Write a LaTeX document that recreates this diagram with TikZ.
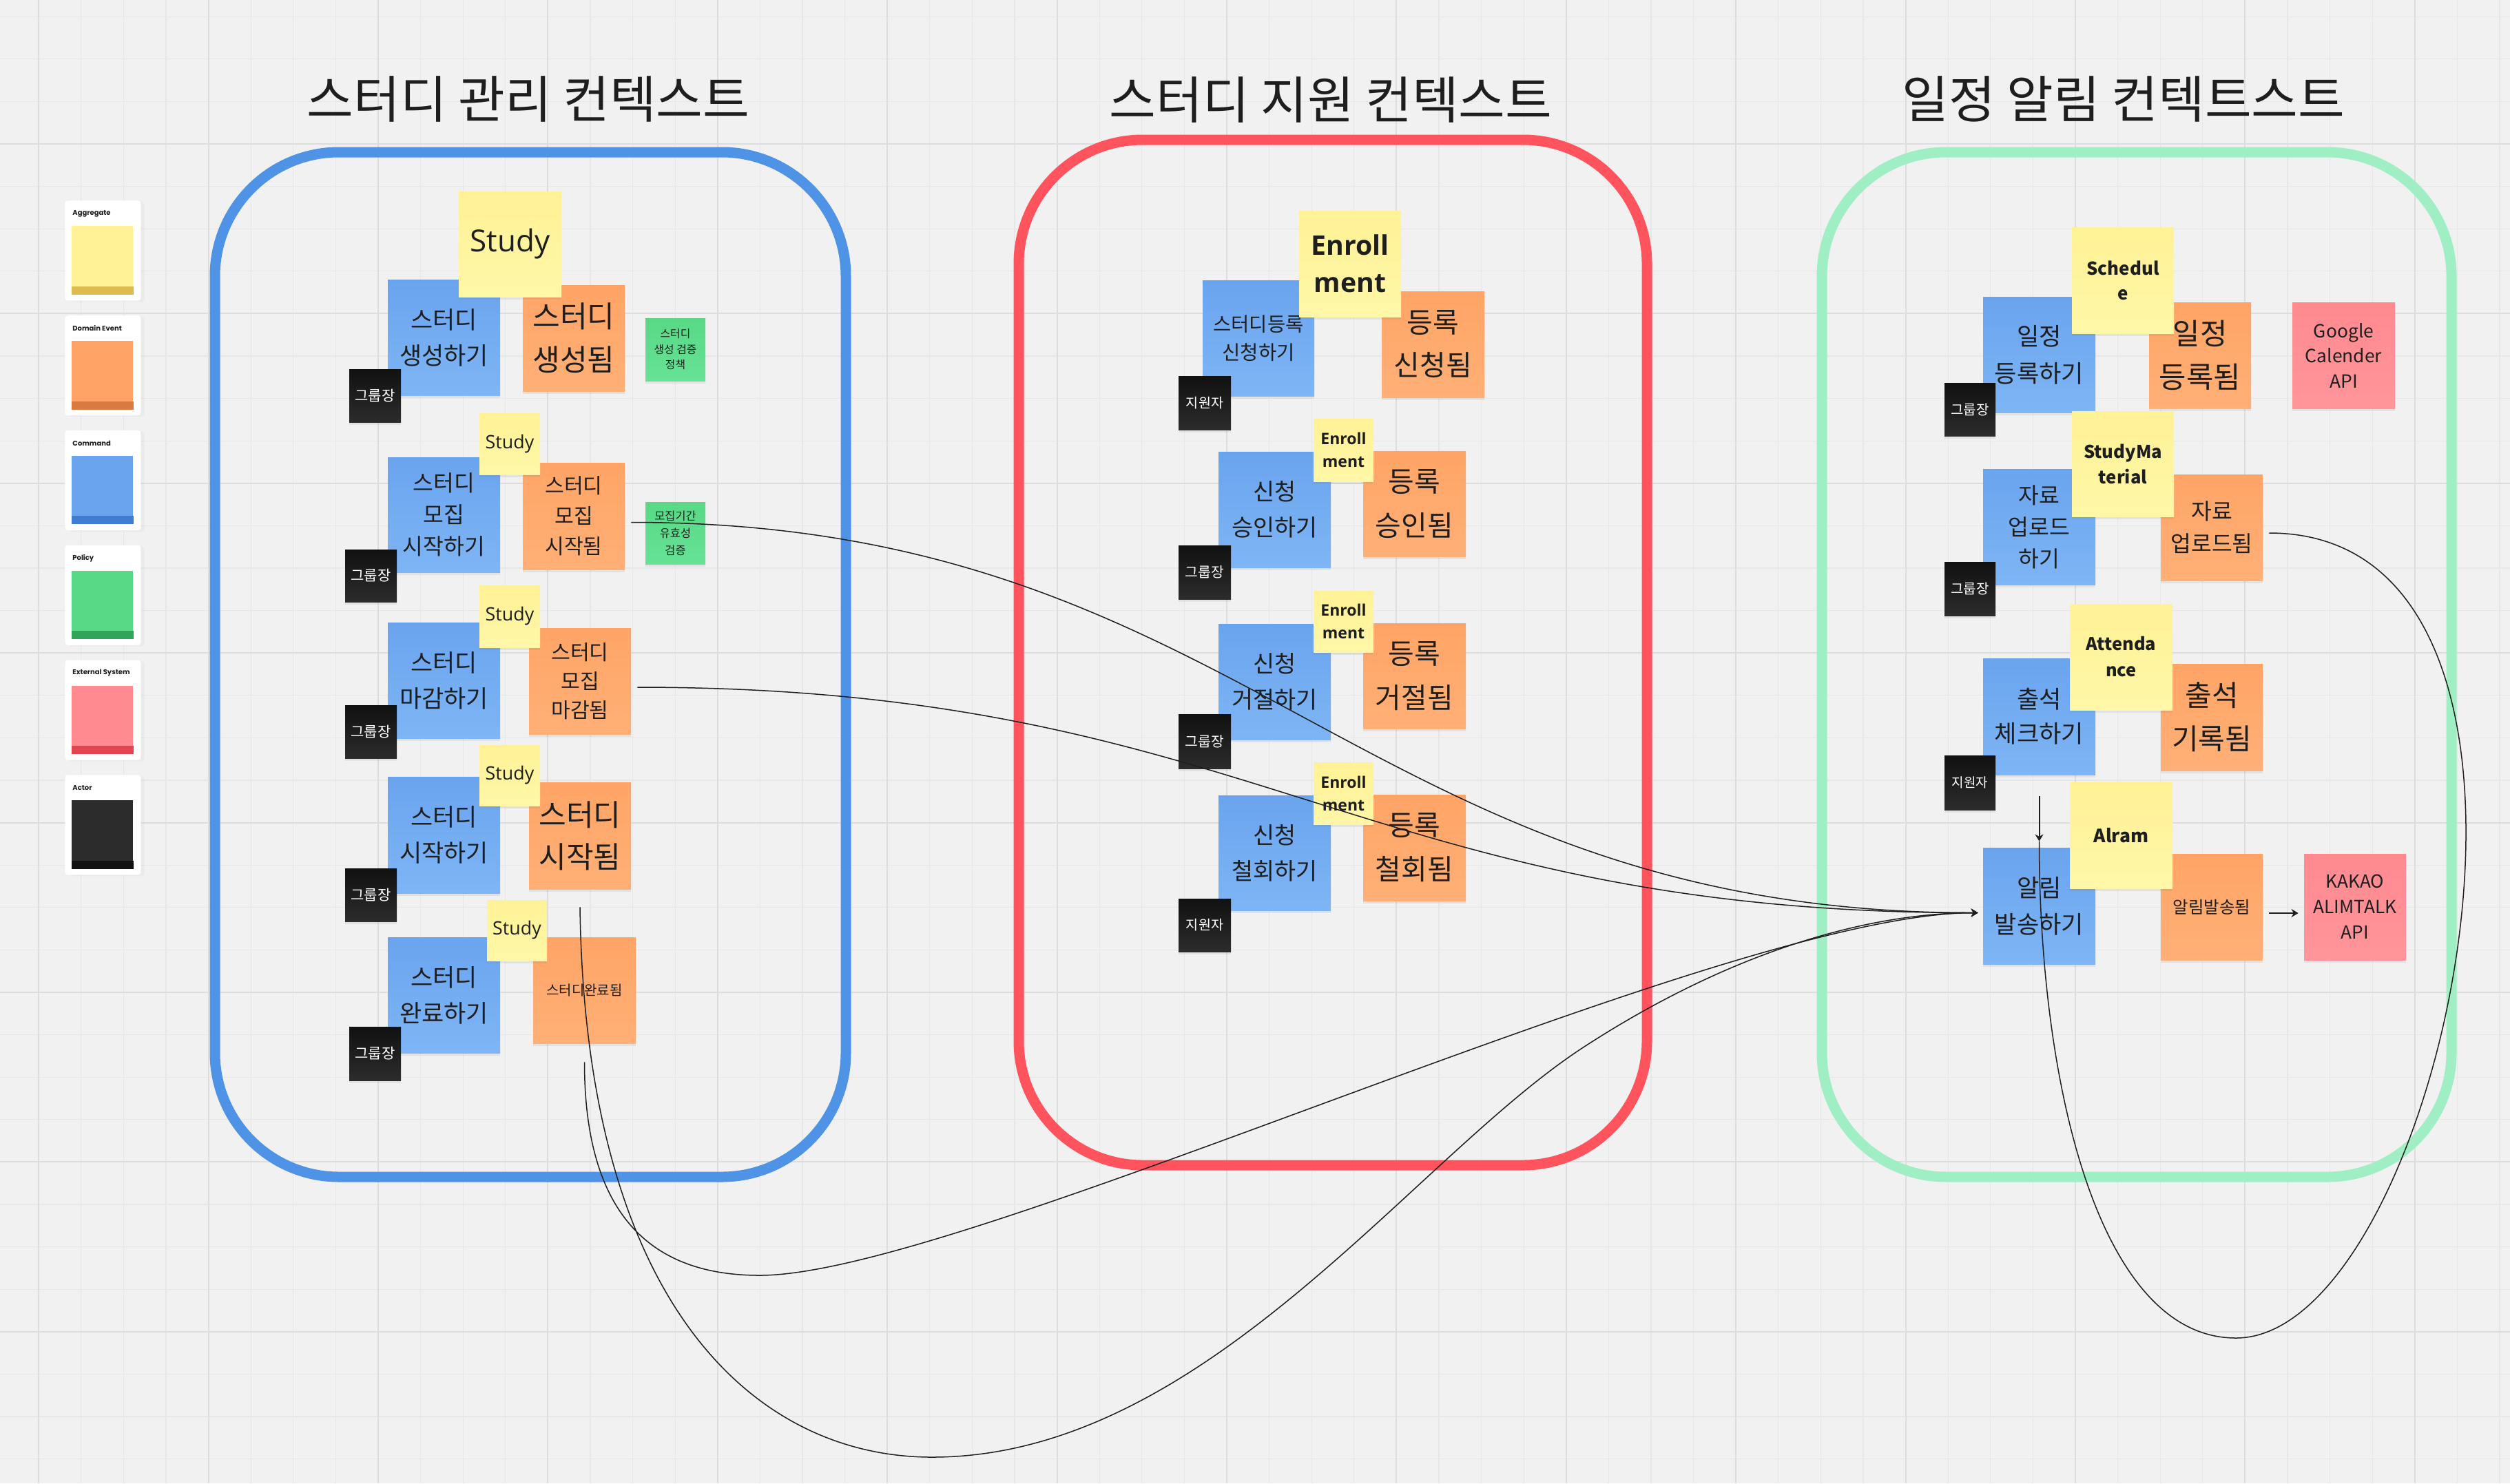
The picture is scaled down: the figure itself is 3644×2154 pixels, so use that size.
\documentclass[tikz,border=0pt]{standalone}
\usepackage{fontspec}
\setmainfont{Noto Sans CJK KR}
\newfontfamily\kr{Noto Sans CJK KR}
\newfontfamily\os{Open Sans}
\newfontfamily\pop{Poppins}
\usetikzlibrary{arrows.meta,calc,shadows}

\definecolor{bgc}{HTML}{F1F1F1}
\definecolor{gmin}{HTML}{E7E7E7}
\definecolor{gmaj}{HTML}{DDDDDD}
\definecolor{ctxblue}{HTML}{4F93E6}
\definecolor{ctxred}{HTML}{FF535E}
\definecolor{ctxgreen}{HTML}{A0EEC3}
\definecolor{yelA}{HTML}{FFF296}
\definecolor{yelB}{HTML}{FFF7A8}
\definecolor{orA}{HTML}{FFA466}
\definecolor{orB}{HTML}{FFB077}
\definecolor{blA}{HTML}{6AA4EE}
\definecolor{blB}{HTML}{7EB5F5}
\definecolor{grA}{HTML}{58D985}
\definecolor{grB}{HTML}{66E296}
\definecolor{pkA}{HTML}{FF8A90}
\definecolor{pkB}{HTML}{FF959A}
\definecolor{bkA}{HTML}{111111}
\definecolor{bkB}{HTML}{2C2C2C}
\definecolor{yelS}{HTML}{DDBB4E}
\definecolor{orS}{HTML}{D97A40}
\definecolor{blS}{HTML}{3F7DD3}
\definecolor{grS}{HTML}{2EA65A}
\definecolor{pkS}{HTML}{E04550}
\definecolor{bkS}{HTML}{121212}
\definecolor{ink}{HTML}{1E1E1E}

\newcommand\fsz[2]{\fontsize{#1pt}{#2pt}\selectfont}
\newcommand\stk[8]{%
  \pgfmathsetmacro\stkX{(#3+#5)/2}%
  \pgfmathsetmacro\stkY{(#4+#6)/2}%
  \pgfmathsetmacro\stkW{(#5-#3)*0.5}%
  \pgfmathsetmacro\stkH{(#6-#4)*0.5}%
  \node[#2, font={#7}, minimum width=\stkW pt, minimum height=\stkH pt] (#1) at (\stkX,\stkY) {#8};%
}

\begin{document}
\begin{tikzpicture}[x=0.5pt,y=-0.5pt,
  note/.style={inner sep=0pt, align=center, drop shadow={opacity=0.13,shadow xshift=0pt,shadow yshift=-2pt}},
  cmd/.style={note, top color=blA, bottom color=blB, text=ink},
  evt/.style={note, top color=orA, bottom color=orB, text=ink},
  agg/.style={note, top color=yelA, bottom color=yelB, text=ink},
  pol/.style={note, top color=grA, bottom color=grB, text=ink},
  ext/.style={note, top color=pkA, bottom color=pkB, text=ink},
  act/.style={note, top color=bkA, bottom color=bkB, text=white},
  ctx/.style={line width=7.5pt, rounded corners=90pt},
  conn/.style={line width=0.75pt, ink},
  sconn/.style={line width=1pt, ink},
  tip/.style={-{Stealth[length=5pt,width=6pt]}},
  gridmin/.style={gmin, line width=0.6pt},
  gridmaj/.style={gmaj, line width=1pt},
]
\useasboundingbox (0,0) rectangle (3644,2154);
\fill[bgc] (0,0) rectangle (3644,2154);

% grid
\foreach \m in {1,...,59}{\draw[gridmin] ({-5.4+61.6*\m},0) -- ({-5.4+61.6*\m},2154);}
\foreach \n in {0,...,34}{\draw[gridmin] (0,{24.2+61.6*\n}) -- (3644,{24.2+61.6*\n});}
\foreach \m in {1,5,...,57}{\draw[gridmaj] ({-5.4+61.6*\m},0) -- ({-5.4+61.6*\m},2154);}
\foreach \n in {3,7,...,31}{\draw[gridmaj] (0,{24.2+61.6*\n}) -- (3644,{24.2+61.6*\n});}

% legend
\foreach \i/\t/\ca/\cs in {0/Aggregate/yelA/yelS,1/Domain Event/orA/orS,2/Command/blA/blS,3/Policy/grA/grS,4/External System/pkA/pkS,5/Actor/bkB/bkS}{
  \pgfmathsetmacro\yy{291+166.8*\i}
  \node[fill=white, rounded corners=2pt, minimum width=55pt, minimum height=72.5pt, inner sep=0pt, anchor=north west, drop shadow={opacity=0.05,shadow yshift=-1pt}] (card\i) at (94,\yy) {};
  \node[anchor=west, inner sep=0pt, font=\pop\bfseries\fsz{5}{6}, text=ink] (cardt\i) at ($(card\i.north west)+(11,19)$) {\t};
  \node[fill=\ca, minimum width=44.5pt, minimum height=49.5pt, inner sep=0pt, anchor=north west] (cards\i) at ($(card\i.north west)+(10,37)$) {};
  \fill[\cs] ($(cards\i.south west)+(0,-12)$) rectangle (cards\i.south east);
}

% titles
\node[font=\kr\fsz{36.8}{45}, text=ink] (t1) at (767,144) {스터디 관리 컨텍스트};
\node[font=\kr\fsz{36.8}{45}, text=ink] (t2) at (1932,145) {스터디 지원 컨텍스트};
\node[font=\kr\fsz{36.8}{45}, text=ink] (t3) at (3083,144) {일정 알림 컨텍트스트};

% context frames
\draw[ctx, ctxblue] (312,221) rectangle (1228,1709);
\draw[ctx, ctxred] (1479,203) rectangle (2391,1692);
\draw[ctx, ctxgreen] (2645,221) rectangle (3559,1709);

% ---------- left context
\stk{Lc1}{cmd}{563}{406}{726}{574}{\kr\fsz{17.5}{26}}{스터디\\생성하기}
\stk{Le1}{evt}{759}{414}{907}{568}{\kr\fsz{21.6}{31.5}}{스터디\\생성됨}
\stk{Lp1}{pol}{937}{462}{1024}{553}{\kr\fsz{7.9}{11.25}}{스터디\\생성 검증\\정책}
\stk{Lc2}{cmd}{563}{664}{726}{831}{\kr\fsz{16.2}{23}}{스터디\\모집\\시작하기}
\stk{Le2}{evt}{759}{672}{907}{827}{\kr\fsz{15.1}{22}}{스터디\\모집\\시작됨}
\stk{Lp2}{pol}{937}{729}{1024}{819}{\kr\fsz{8.2}{12.5}}{모집기간\\유효성\\검증}
\stk{Lc3}{cmd}{563}{904}{726}{1072}{\kr\fsz{17.5}{26}}{스터디\\마감하기}
\stk{Le3}{evt}{768}{912}{916}{1066}{\kr\fsz{15.1}{21}}{스터디\\모집\\마감됨}
\stk{Lc4}{cmd}{563}{1128}{726}{1297}{\kr\fsz{17.5}{26}}{스터디\\시작하기}
\stk{Le4}{evt}{768}{1136}{916}{1291}{\kr\fsz{21.6}{30.5}}{스터디\\시작됨}
\stk{Lc5}{cmd}{563}{1361}{726}{1529}{\kr\fsz{17.5}{26}}{스터디\\완료하기}
\stk{Le5}{evt}{774}{1361}{923}{1515}{\kr\fsz{10}{12}}{스터디완료됨}
\stk{Ls1}{agg}{666}{278}{815}{431}{\os\fsz{22}{26}}{Study}
\stk{Ls2}{agg}{696}{600}{784}{689}{\os\fsz{13.4}{16}}{Study}
\stk{Ls3}{agg}{696}{850}{784}{940}{\os\fsz{13.4}{16}}{Study}
\stk{Ls4}{agg}{696}{1082}{784}{1170}{\os\fsz{13.4}{16}}{Study}
\stk{Ls5}{agg}{707}{1307}{794}{1395}{\os\fsz{13.4}{16}}{Study}
\stk{La1}{act}{507}{536}{582}{613}{\kr\fsz{10.5}{12}}{그룹장}
\stk{La2}{act}{501}{798}{576}{874}{\kr\fsz{10.5}{12}}{그룹장}
\stk{La3}{act}{501}{1024}{576}{1101}{\kr\fsz{10.5}{12}}{그룹장}
\stk{La4}{act}{501}{1261}{576}{1338}{\kr\fsz{10.5}{12}}{그룹장}
\stk{La5}{act}{507}{1491}{582}{1569}{\kr\fsz{10.5}{12}}{그룹장}

% ---------- middle context
\stk{Mc1}{cmd}{1746}{407}{1908}{575}{\kr\fsz{14.3}{20.5}}{스터디등록\\신청하기}
\stk{Me1}{evt}{2006}{423}{2155}{577}{\kr\fsz{20.5}{31}}{등록\\신청됨}
\stk{Mc2}{cmd}{1769}{656}{1932}{824}{\kr\fsz{16.9}{26}}{신청\\승인하기}
\stk{Me2}{evt}{1979}{655}{2128}{808}{\kr\fsz{20.5}{32}}{등록\\승인됨}
\stk{Mc3}{cmd}{1769}{906}{1932}{1074}{\kr\fsz{16.9}{26}}{신청\\거절하기}
\stk{Me3}{evt}{1979}{905}{2128}{1058}{\kr\fsz{20.5}{32}}{등록\\거절됨}
\stk{Mc4}{cmd}{1769}{1155}{1932}{1322}{\kr\fsz{16.9}{26}}{신청\\철회하기}
\stk{Me4}{evt}{1979}{1154}{2128}{1308}{\kr\fsz{20.5}{32}}{등록\\철회됨}
\stk{Ms1}{agg}{1886}{306}{2034}{460}{\os\bfseries\fsz{19.6}{27}}{Enroll\\ment}
\stk{Ms2}{agg}{1907}{608}{1994}{699}{\os\bfseries\fsz{11.5}{16.5}}{Enroll\\ment}
\stk{Ms3}{agg}{1907}{858}{1994}{947}{\os\bfseries\fsz{11.5}{16.5}}{Enroll\\ment}
\stk{Ms4}{agg}{1907}{1107}{1994}{1197}{\os\bfseries\fsz{11.5}{16.5}}{Enroll\\ment}
\stk{Ma1}{act}{1711}{546}{1787}{624}{\kr\fsz{9.8}{12}}{지원자}
\stk{Ma2}{act}{1711}{792}{1787}{870}{\kr\fsz{10.2}{12}}{그룹장}
\stk{Ma3}{act}{1711}{1037}{1787}{1116}{\kr\fsz{10.2}{12}}{그룹장}
\stk{Ma4}{act}{1711}{1305}{1787}{1382}{\kr\fsz{9.8}{12}}{지원자}

% ---------- right context
\stk{Rc1}{cmd}{2879}{431}{3042}{599}{\kr\fsz{17.6}{27}}{일정\\등록하기}
\stk{Re1}{evt}{3120}{439}{3268}{593}{\kr\fsz{21.4}{31.5}}{일정\\등록됨}
\stk{Rx1}{ext}{3328}{439}{3477}{593}{\kr\fsz{13.2}{18.25}}{Google\\Calender\\API}
\stk{Rc2}{cmd}{2879}{681}{3042}{849}{\kr\fsz{16.2}{23}}{자료\\업로드\\하기}
\stk{Re2}{evt}{3137}{689}{3285}{843}{\kr\fsz{16.2}{23.5}}{자료\\업로드됨}
\stk{Rc3}{cmd}{2879}{956}{3042}{1125}{\kr\fsz{17.6}{25}}{출석\\체크하기}
\stk{Re3}{evt}{3137}{964}{3285}{1119}{\kr\fsz{21}{31.5}}{출석\\기록됨}
\stk{Rc4}{cmd}{2879}{1231}{3042}{1400}{\kr\fsz{17.6}{26.5}}{알림\\발송하기}
\stk{Re4}{evt}{3137}{1240}{3285}{1394}{\kr\fsz{12.25}{14}}{알림발송됨}
\stk{Rx2}{ext}{3345}{1240}{3493}{1394}{\kr\fsz{13.1}{18.5}}{KAKAO\\ALIMTALK\\API}
\stk{Rs1}{agg}{3008}{330}{3156}{484}{\kr\bfseries\fsz{12.9}{18}}{Schedul\\e}
\stk{Rs2}{agg}{3008}{597}{3156}{750}{\kr\bfseries\fsz{12.8}{18.5}}{StudyMa\\terial}
\stk{Rs3}{agg}{3005}{877}{3154}{1031}{\kr\bfseries\fsz{12.7}{19}}{Attenda\\nce}
\stk{Rs4}{agg}{3005}{1136}{3154}{1290}{\kr\bfseries\fsz{13.2}{18}}{Alram}
\stk{Ra1}{act}{2823}{556}{2897}{633}{\kr\fsz{10}{12}}{그룹장}
\stk{Ra2}{act}{2823}{816}{2897}{894}{\kr\fsz{10}{12}}{그룹장}
\stk{Ra3}{act}{2823}{1097}{2897}{1176}{\kr\fsz{9.5}{12}}{지원자}

% ---------- connectors
\coordinate (tipA) at ($(Rc4.west)+(-7,10)$);
\coordinate (bA) at (1103,1852);
\coordinate (bB) at (1353,2116);
\coordinate (mB) at (2300,1520);
\coordinate (bC) at (3246,1943);

\draw[conn, tip] ($(Le2.east)+(9,9)$) .. controls +(900,0) and +(-900,0) .. (tipA);
\draw[conn, tip] ($(Le3.east)+(9,9)$) .. controls +(900,0) and +(-900,0) .. (tipA);
\draw[conn, tip] ($(Le5.south)+(0,27)$) .. controls +(0,238) and +(-143,0) .. (bA)
   .. controls +(297,0) and +(-372,0) .. (tipA);
\draw[conn, tip] ($(Le4.south)+(0,26)$) .. controls +(8,583) and +(-253,0) .. (bB)
   .. controls +(397,0) and +(-250,162) .. (mB)
   .. controls +(200,-130) and +(-172,0) .. (tipA);
\draw[conn] ($(Re2.east)+(9,8)$) .. controls +(500,0) and +(300,0) .. (bC)
   .. controls +(-200,0) and +(0,350) .. ($(Rc4.north)+(0,-9)$);
\draw[sconn, tip] ($(Rc3.south)+(0,31)$) -- ($(Rc4.north)+(0,-9)$);
\draw[sconn, tip] ($(Re4.east)+(9,9)$) -- ($(Rx2.west)+(-8,9)$);
\end{tikzpicture}
\end{document}
